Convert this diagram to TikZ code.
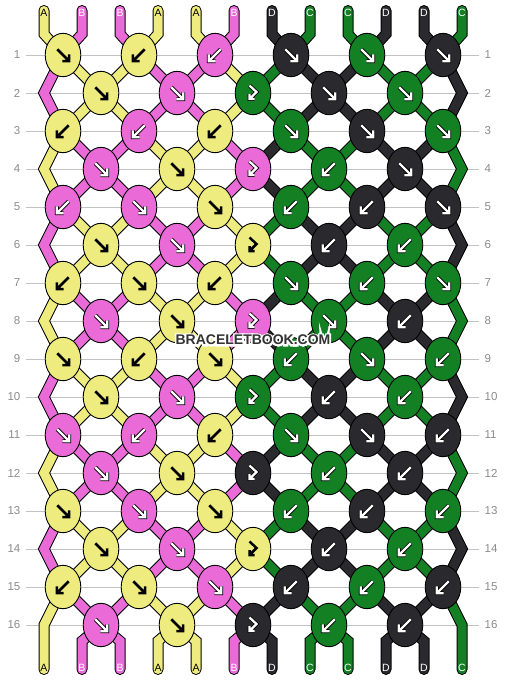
\documentclass[tikz,border=0pt]{standalone}
\usepackage{fontspec}
\setmainfont{Liberation Sans}
\newfontfamily\wmhalofont{Liberation Sans Bold}[FakeBold=25]
\usetikzlibrary{shapes.geometric}
\definecolor{colA}{HTML}{EEEB7F}
\definecolor{colB}{HTML}{EA6AD8}
\definecolor{colC}{HTML}{128023}
\definecolor{colD}{HTML}{2A292D}
\definecolor{gridgray}{HTML}{C2C2C2}
\definecolor{numgray}{HTML}{8C8C8C}
\definecolor{wmark}{HTML}{333333}
\tikzset{
  strand/.style={draw=black, line width=1pt, double=#1, double distance=9pt},
  strandend/.style={strand=#1, line cap=round},
  knot/.style={ellipse, draw=black, line width=0.9pt, minimum width=35.6pt, minimum height=43.4pt, inner sep=0pt},
  gridline/.style={gridgray, line width=1pt},
  rownum/.style={text=numgray, font=\fontsize{11.5}{12}\selectfont, inner sep=0pt},
  lab/.style={font=\fontsize{10.5}{11}\selectfont, inner sep=0pt},
  arrowblack/.style={draw=black, line width=2.5pt},
  arrowwhite/.style={draw=black, line width=0.8pt, double=white, double distance=2.3pt},
  wm/.style={font=\bfseries\fontsize{14}{14}\selectfont, inner sep=0pt},
  wmhalo/.style={font=\wmhalofont\fontsize{14}{14}\selectfont, inner sep=0pt}
}
\newcommand\arrowpathR[1]{\draw[#1] (-5.7,-5.7) -- (6.2,6.2) (6.2,-0.6) -- (6.2,6.2) -- (-0.6,6.2);}
\newcommand\arrowpathL[1]{\draw[#1] (5.7,-5.7) -- (-6.2,6.2) (-6.2,-0.6) -- (-6.2,6.2) -- (0.6,6.2);}
\newcommand\arrowpathS[1]{\draw[#1] (-3.5,-7.5) -- (3.5,-1) -- (-3.5,6) (-3.5,1) -- (-3.5,6) -- (1.5,6);}
\newcommand\krow[2]{%
  \foreach \kc/\ka [count=\ki] in {#2} {
    \node[knot, fill=col\kc] (k-#1-\ki) at (c-#1-\ki) {};
    \begin{scope}[shift={(c-#1-\ki)}]
      \if\kc A
        \csname arrowpath\ka\endcsname{arrowblack}
      \else
        \csname arrowpath\ka\endcsname{arrowwhite}
      \fi
    \end{scope}
  }}
\begin{document}
\begin{tikzpicture}[x=1pt,y=-1pt]
\useasboundingbox (0,0) rectangle (506,680);
\fill[white] (0,0) rectangle (506,680);
% knot positions
\foreach \r in {1,...,16} {
  \pgfmathtruncatemacro\odd{mod(\r,2)}
  \pgfmathsetmacro\yy{55+38*(\r-1)}
  \ifnum\odd=1
    \foreach \i in {1,...,6} { \coordinate (c-\r-\i) at ({63+76*(\i-1)},\yy); }
  \else
    \foreach \i in {1,...,5} { \coordinate (c-\r-\i) at ({101+76*(\i-1)},\yy); }
  \fi
}
% grid lines and row numbers
\foreach \r in {1,...,16} {
  \pgfmathsetmacro\yy{55+38*(\r-1)}
  \draw[gridline] (26,\yy) -- (479,\yy);
  \node[rownum, anchor=east] (ln-\r) at (20.5,\yy) {\r};
  \node[rownum, anchor=west] (rn-\r) at (484.5,\yy) {\r};
}
% top strands
\foreach \p/\cl in {1/A,2/B,3/B,4/A,5/A,6/B,7/D,8/C,9/C,10/D,11/D,12/C} {
  \pgfmathsetmacro\xx{44+38*(\p-1)}
  \pgfmathtruncatemacro\hi{ceil(\p/2)}
  \draw[strandend=col\cl] (\xx,10.5) -- (\xx,34) -- (c-1-\hi);
}
% inner strands
\foreach \r in {1,...,15} {
  \pgfmathtruncatemacro\rn{\r+1}
  \pgfmathtruncatemacro\ph{mod(floor((\r+1)/2),2)}
  \pgfmathtruncatemacro\od{mod(\r,2)}
  \foreach \p/\cx/\cy in {2/A/B,3/A/B,4/B/A,5/B/A,6/A/B,7/C/D,8/D/C,9/D/C,10/C/D,11/C/D} {
    \pgfmathtruncatemacro\hi{ceil(\p/2)}
    \pgfmathtruncatemacro\lo{floor(\p/2)}
    \ifnum\ph=1 \edef\cc{col\cx}\else\edef\cc{col\cy}\fi
    \ifnum\od=1
      \draw[strand=\cc] (c-\r-\hi) -- (c-\rn-\lo);
    \else
      \draw[strand=\cc] (c-\r-\lo) -- (c-\rn-\hi);
    \fi
  }
}
% edge zigzags
\foreach \r/\lc/\rc in {2/B/D,4/A/C,6/B/D,8/A/C,10/B/D,12/A/C,14/B/D} {
  \pgfmathtruncatemacro\rp{\r-1}
  \pgfmathtruncatemacro\rn{\r+1}
  \pgfmathsetmacro\yy{55+38*(\r-1)}
  \draw[strand=col\lc] (c-\rp-1) -- (44,\yy) -- (c-\rn-1);
  \draw[strand=col\rc] (c-\rp-6) -- (462,\yy) -- (c-\rn-6);
}
\draw[strandend=colA] (c-15-1) -- (44,625) -- (44,669.5);
\draw[strandend=colC] (c-15-6) -- (462,625) -- (462,669.5);
% bottom strands
\foreach \p/\cl in {2/B,3/B,4/A,5/A,6/B,7/D,8/C,9/C,10/D,11/D} {
  \pgfmathsetmacro\xx{44+38*(\p-1)}
  \pgfmathtruncatemacro\lo{floor(\p/2)}
  \draw[strandend=col\cl] (c-16-\lo) -- (\xx,641) -- (\xx,669.5);
}
% knots
\krow{1}{A/R,A/L,B/L,D/R,C/R,D/R}
\krow{2}{A/R,B/R,C/S,D/R,C/R}
\krow{3}{A/L,B/L,A/L,C/R,D/R,C/R}
\krow{4}{B/R,A/R,B/S,C/L,D/R}
\krow{5}{B/L,B/R,A/R,C/L,D/L,D/R}
\krow{6}{A/R,B/R,A/S,D/L,C/L}
\krow{7}{A/L,A/R,A/L,C/R,C/L,C/R}
\krow{8}{B/R,A/R,B/S,C/R,D/L}
\krow{9}{A/R,A/L,A/R,C/L,C/R,C/L}
\krow{10}{A/R,B/R,C/S,D/L,C/L}
\krow{11}{B/R,B/L,A/L,C/R,D/R,D/L}
\krow{12}{B/R,A/R,D/S,C/L,D/L}
\krow{13}{A/R,B/R,A/R,C/L,D/L,C/L}
\krow{14}{A/R,B/R,A/S,D/L,C/L}
\krow{15}{A/L,A/R,B/R,D/L,C/L,D/L}
\krow{16}{B/R,A/R,D/S,C/L,D/L}
% end labels
\foreach \p/\cl in {1/A,2/B,3/B,4/A,5/A,6/B,7/D,8/C,9/C,10/D,11/D,12/C} {
  \pgfmathsetmacro\xx{44+38*(\p-1)}
  \def\tc{white}\if\cl A\def\tc{black}\fi
  \node[lab, text=\tc] (top-\p) at (\xx,12.5) {\cl};
  \node[lab, text=\tc] (bot-\p) at (\xx,667.5) {\cl};
}
% watermark with white halo
\node[wmhalo, text=white] (wmhalo) at (253,340) {BRACELETBOOK.COM};
\node[wm, text=wmark] (wm) at (253,340) {BRACELETBOOK.COM};
\end{tikzpicture}
\end{document}
